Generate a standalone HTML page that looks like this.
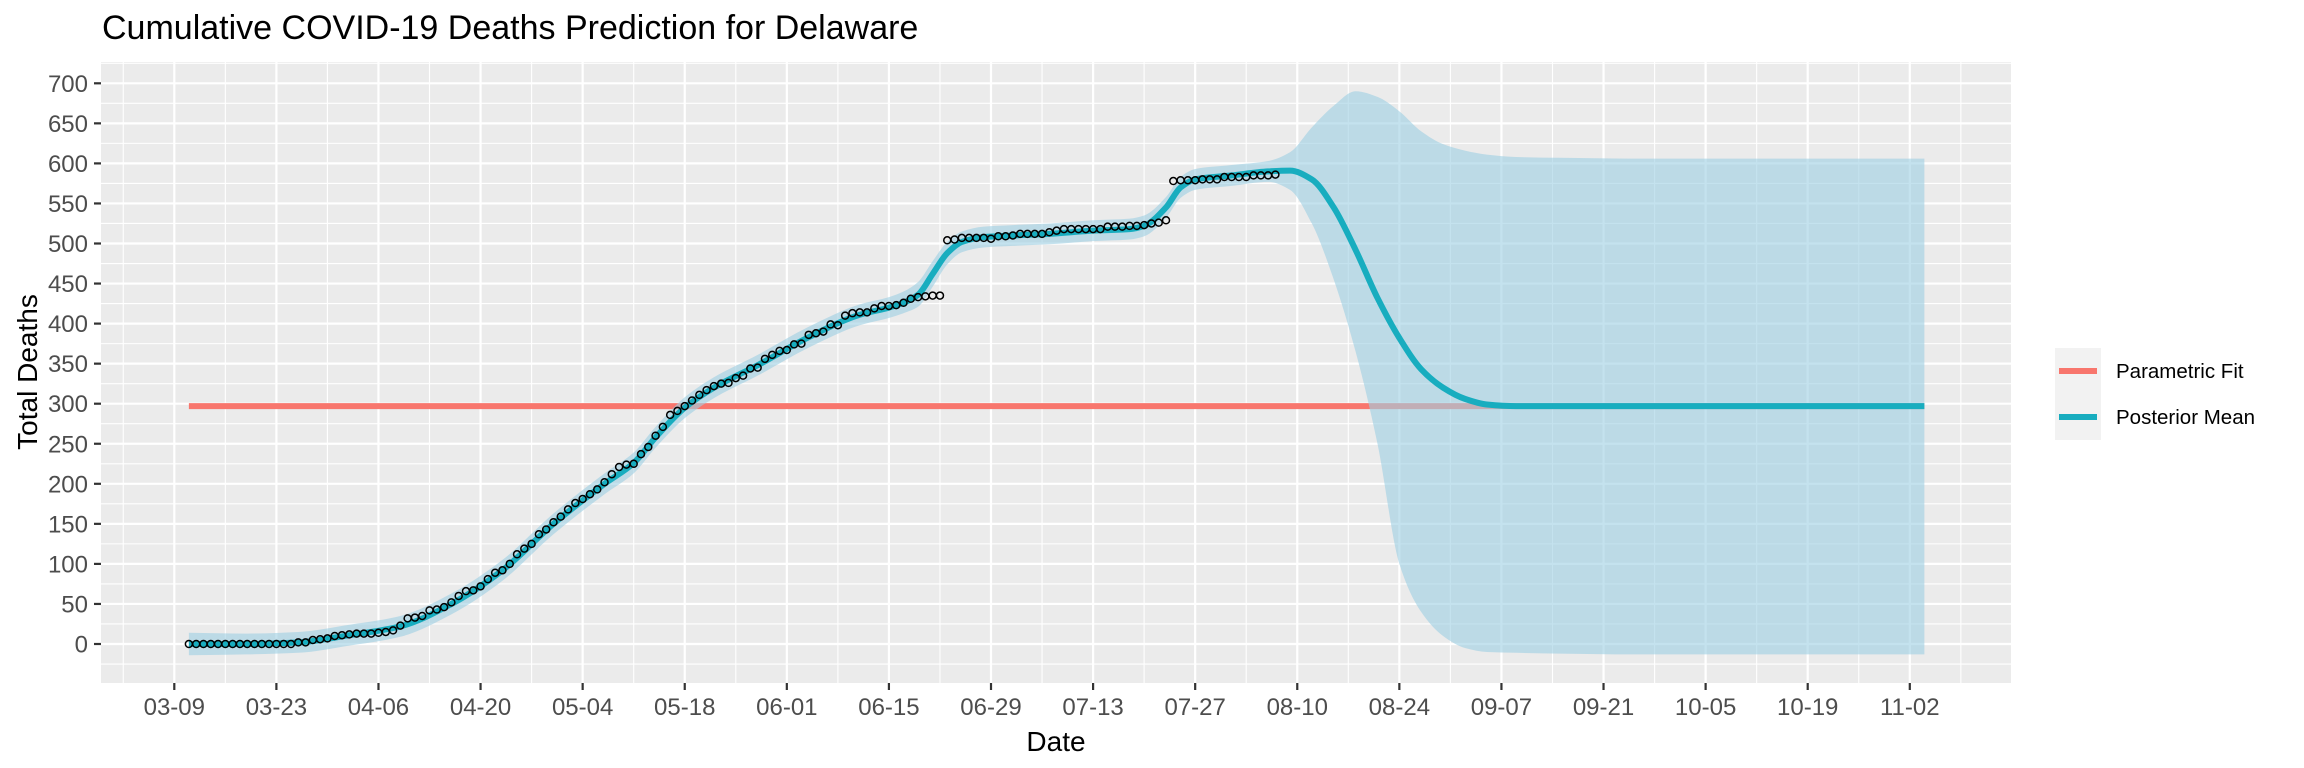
<!DOCTYPE html>
<html><head><meta charset="utf-8"><style>
html,body{margin:0;padding:0;background:#fff;}
svg{display:block;font-family:"Liberation Sans",Arial,sans-serif;}
</style></head><body>
<svg id="chart" width="2304" height="768" viewBox="0 0 2304 768">
<text x="102" y="39" font-size="34" fill="#000">Cumulative COVID-19 Deaths Prediction for Delaware</text>
<rect x="101" y="62" width="1910" height="621" fill="#EBEBEB"/>
<g id="grid"></g>
<g id="marks"></g>
<g id="axes"></g>
<text x="1056" y="751" font-size="28" text-anchor="middle" fill="#000">Date</text>
<text transform="translate(37,372) rotate(-90)" font-size="28" text-anchor="middle" fill="#000">Total Deaths</text>
<g>
<rect x="2055" y="348" width="46" height="92" fill="#F2F2F2"/>
<line x1="2059" y1="371" x2="2097" y2="371" stroke="#F8766D" stroke-width="6"/>
<line x1="2059" y1="417" x2="2097" y2="417" stroke="#18ADBF" stroke-width="6"/>
<text x="2116" y="378" font-size="20.5" fill="#000">Parametric Fit</text>
<text x="2116" y="424" font-size="20.5" fill="#000">Posterior Mean</text>
</g>
</svg>
<script>
// ---- data ----
const obsStartDay = 2; // days after 03-09
const observed = [0,0,0,0,0,0,0,0,0,0,0,0,0,0,0,
2,2,5,6,7,10,11,12,13,13,13,14,
15,17,23,32,33,35,42,43,46,52,60,66,67,72,81,89,92,100,112,119,125,137,143,152,159,168,176,181,187,193,202,212,221,224,225,237,246,260,271,286,291,297,304,311,317,322,325,326,332,335,344,345,356,361,366,367,374,375,386,388,390,399,398,410,413,414,414,419,422,422,423,426,431,433,434,435,435,
504,505,507,507,507,507,506,509,509,510,512,512,512,512,514,516,518,518,518,518,518,518,521,521,521,522,522,523,525,526,529,
578,579,579,579,580,580,580,583,583,583,583,585,585,585,586];
const meanDays = [2,10,17,24,31,38,45,52,59,63,66,70,74,80,87,94,98,100,102,104,106,108,111,115,120,126,131,133,136,138,140,145,150,153,156,159,162,165,168,171,174,177,180,184,190,200,240];
const meanVals = [0,0,2,11,22,50,92,150,200,226,258,295,320,348,383,411,420,426,436,462,488,502,508,510,512,516,518,522,545,570,580,585,590,591,580,545,492,432,382,343,320,306,299,297,297,297,297];
const ribbonHi = [14,13,15,24,35,63,105,163,213,239,271,308,333,361,396,424,433,440,452,478,502,515,521,523,525,529,531,535,558,583,593,598,603,614,645,672,690,683,665,640,624,616,611,608,607,606,606];
const ribbonLo = [-14,-13,-11,-2,9,37,79,137,187,213,245,282,307,335,370,398,407,413,421,446,474,489,495,497,499,503,505,509,532,557,567,572,577,567,525,455,365,250,100,40,10,-5,-10,-11,-12,-13,-13];
const paramDays = [2,240];
const paramVals = [297,297];
const yTicks = [0,50,100,150,200,250,300,350,400,450,500,550,600,650,700];
const xTickDays = [0,14,28,42,56,70,84,98,112,126,140,154,168,182,196,210,224,238];
const xTickLabels = ["03-09","03-23","04-06","04-20","05-04","05-18","06-01","06-15","06-29","07-13","07-27","08-10","08-24","09-07","09-21","10-05","10-19","11-02"];

// ---- scales ----
const PX0=101, PX1=2011, PY0=62, PY1=683;
function xs(d){return 174.3 + d*7.292;}
function ys(v){return 644 - v*0.801;}
const NS="http://www.w3.org/2000/svg";
function mk(tag,attrs,parent){const e=document.createElementNS(NS,tag);for(const k in attrs)e.setAttribute(k,attrs[k]);parent.appendChild(e);return e;}

function monotonePath(xsArr, ysArr, move){
  const n=xsArr.length; const dx=[],m=[],t=[];
  for(let i=0;i<n-1;i++){dx.push(xsArr[i+1]-xsArr[i]);m.push((ysArr[i+1]-ysArr[i])/dx[i]);}
  t[0]=m[0]; t[n-1]=m[n-2];
  for(let i=1;i<n-1;i++){ if(m[i-1]*m[i]<=0) t[i]=0; else { const w1=2*dx[i]+dx[i-1], w2=dx[i]+2*dx[i-1]; t[i]=(w1+w2)/(w1/m[i-1]+w2/m[i]); } }
  let p=(move?"M":"L")+xsArr[0].toFixed(2)+","+ysArr[0].toFixed(2);
  for(let i=0;i<n-1;i++){const h=dx[i]/3;
    p+="C"+(xsArr[i]+h).toFixed(2)+","+(ysArr[i]+t[i]*h).toFixed(2)+" "+(xsArr[i+1]-h).toFixed(2)+","+(ysArr[i+1]-t[i+1]*h).toFixed(2)+" "+xsArr[i+1].toFixed(2)+","+ysArr[i+1].toFixed(2);}
  return p;
}

// ---- grid ----
const grid=document.getElementById('grid');
for(let v=-25; v<=725; v+=50){const y=ys(v); if(y<PY0||y>PY1) continue;
  const l=mk('line',{x1:PX0,x2:PX1,y1:y,y2:y,stroke:'#fff','stroke-width':1.1},grid);
  
  }
for(let d=-7; d<=252; d+=14){const x=xs(d); if(x<PX0||x>PX1) continue;
  const l=mk('line',{x1:x,x2:x,y1:PY0,y2:PY1,stroke:'#fff','stroke-width':1.1},grid);
  
  }
yTicks.forEach(v=>{const y=ys(v);
  const l=mk('line',{x1:PX0,x2:PX1,y1:y,y2:y,stroke:'#fff','stroke-width':2.2},grid);
  
  });
xTickDays.forEach(d=>{const x=xs(d);
  const l=mk('line',{x1:x,x2:x,y1:PY0,y2:PY1,stroke:'#fff','stroke-width':2.2},grid);
  
  });

// ---- marks ----
const marks=document.getElementById('marks');
const pl=mk('line',{x1:xs(paramDays[0]),x2:xs(paramDays[1]),y1:ys(paramVals[0]),y2:ys(paramVals[1]),stroke:'#F8766D','stroke-width':6},marks);



const rx=meanDays.map(xs);
let rp=monotonePath(rx, ribbonHi.map(ys), true);
rp+=monotonePath(rx.slice().reverse(), ribbonLo.map(ys).reverse(), false)+"Z";
const rib=mk('path',{d:rp,fill:'#9FD0E4','fill-opacity':0.62,stroke:'none'},marks);



const ml=mk('path',{d:monotonePath(rx, meanVals.map(ys), true),fill:'none',stroke:'#18ADBF','stroke-width':6,'stroke-linejoin':'round'},marks);



observed.forEach((v,i)=>{
  const c=mk('circle',{cx:xs(obsStartDay+i),cy:ys(v),r:3.5,fill:'none',stroke:'#000','stroke-width':1.5},marks);
  
  
});

// ---- axes ----
const axes=document.getElementById('axes');
yTicks.forEach(v=>{const y=ys(v);
  const t=mk('line',{x1:94,x2:101,y1:y,y2:y,stroke:'#333','stroke-width':2.2},axes);
  
  
  const tx=mk('text',{x:88,y:y+8.5,'font-size':24,'text-anchor':'end',fill:'#4D4D4D'},axes);
  tx.textContent=String(v);
  
  });
xTickDays.forEach((d,i)=>{const x=xs(d);
  const t=mk('line',{x1:x,x2:x,y1:683,y2:690,stroke:'#333','stroke-width':2.2},axes);
  
  
  const tx=mk('text',{x:x,y:715,'font-size':24,'text-anchor':'middle',fill:'#4D4D4D'},axes);
  tx.textContent=xTickLabels[i];
  
  });
</script>
</body></html>
